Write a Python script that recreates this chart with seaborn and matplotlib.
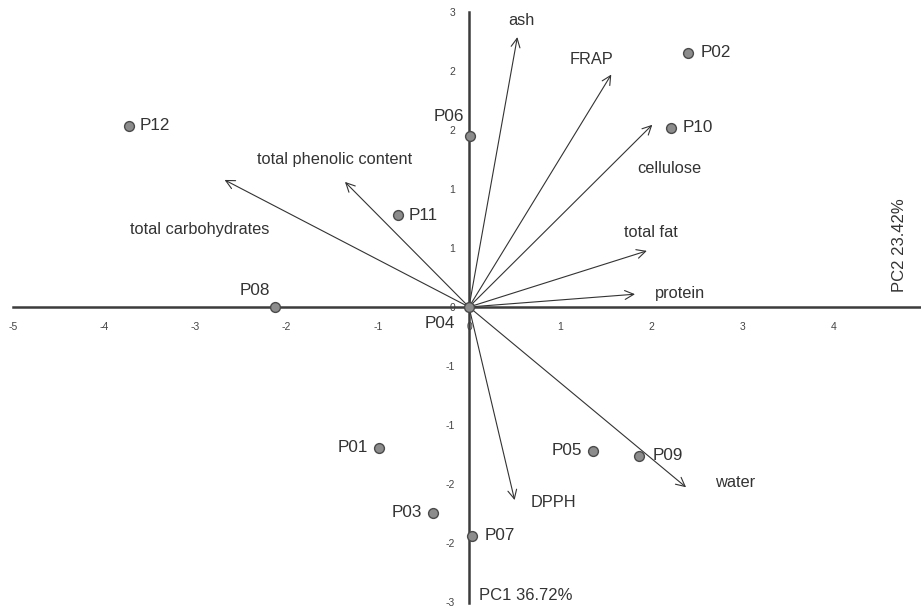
import matplotlib
matplotlib.use("Agg")
import matplotlib.pyplot as plt
from matplotlib.ticker import FixedLocator, FixedFormatter
import seaborn as sns
import pandas as pd

# ---- data ----
samples = ["P01", "P02", "P03", "P04", "P05", "P06", "P07", "P08", "P09", "P10", "P11", "P12"]
pc1 = [-0.99, 2.40, -0.39, 0.00, 1.36, 0.01, 0.03, -2.13, 1.86, 2.21, -0.78, -3.73]
pc2 = [-1.43, 2.58, -2.09, 0.00, -1.46, 1.74, -2.32, 0.00, -1.51, 1.82, 0.93, 1.84]

variables = ["ash", "FRAP", "cellulose", "total fat", "protein", "water", "DPPH",
             "total phenolic content", "total carbohydrates"]
load1 = [0.53, 1.56, 2.01, 1.95, 1.82, 2.38, 0.50, -1.36, -2.68]
load2 = [2.74, 2.36, 1.85, 0.57, 0.13, -1.83, -1.96, 1.27, 1.29]

x_ticks = [-5, -4, -3, -2, -1, 0, 1, 2, 3, 4]
x_ticklabels = ["-5", "-4", "-3", "-2", "-1", "0", "1", "2", "3", "4"]
y_ticks = [-3, -2.4, -1.8, -1.2, -0.6, 0, 0.6, 1.2, 1.8, 2.4, 3]
y_ticklabels = ["-3", "-2", "-2", "-1", "-1", "0", "1", "1", "2", "2", "3"]

x_axis_title = "PC2 23.42%"
y_axis_title = "PC1 36.72%"

# ---- layout (label placement, not data) ----
sample_label_offsets = {  # points offset, ha
    "P01": (-8, 0, "right"), "P02": (9, 0, "left"), "P03": (-8, 0, "right"),
    "P04": (-21, -12, "center"), "P05": (-8, 0, "right"), "P06": (-15, 14, "center"),
    "P07": (9, 0, "left"), "P08": (-14, 12, "center"), "P09": (10, 0, "left"),
    "P10": (9, 0, "left"), "P11": (8, 0, "left"), "P12": (8, 0, "left"),
}
var_label_pos = {
    "ash": (0.58, 2.91), "FRAP": (1.34, 2.51), "cellulose": (2.20, 1.41),
    "total fat": (1.99, 0.76), "protein": (2.31, 0.14), "water": (2.92, -1.78),
    "DPPH": (0.93, -1.98), "total phenolic content": (-1.47, 1.50),
    "total carbohydrates": (-2.95, 0.79),
}

sns.set_theme(style="white")
plt.rcParams["font.family"] = ["Liberation Sans", "DejaVu Sans"]

fig = plt.figure(figsize=(9.21, 6.08), dpi=100)
ax = fig.add_axes([0, 0, 1, 1])

xl = (-469 / 91.2, 452 / 91.2)
yl = (-301 / 98.5, 307 / 98.5)

df = pd.DataFrame({"sample": samples, "pc1": pc1, "pc2": pc2})

# loading arrows
for v, a, b in zip(variables, load1, load2):
    ax.annotate("", xy=(a, b), xytext=(0, 0),
                arrowprops=dict(arrowstyle="->", color="#333333", lw=0.8,
                                mutation_scale=16, shrinkA=0, shrinkB=0))
    lx, ly = var_label_pos[v]
    ax.text(lx, ly, v, ha="center", va="center", fontsize=11.8, color="#333333")

sns.scatterplot(data=df, x="pc1", y="pc2", ax=ax, s=50, color="#8c8c8c",
                edgecolor="#4a4a4a", linewidth=1.0, zorder=5, legend=False)

for s, a, b in zip(samples, pc1, pc2):
    dx, dy, ha = sample_label_offsets[s]
    ax.annotate(s, xy=(a, b), xytext=(dx, dy), textcoords="offset points",
                ha=ha, va="center", fontsize=12.3, color="#333333")

ax.set_xlim(*xl)
ax.set_ylim(*yl)

for side in ["top", "right"]:
    ax.spines[side].set_visible(False)
ax.spines["left"].set_position(("data", 0))
ax.spines["bottom"].set_position(("data", 0))
ax.spines["left"].set_bounds(-3, 3)
ax.spines["bottom"].set_bounds(-5, xl[1])
for side in ["left", "bottom"]:
    ax.spines[side].set_color("#3c3c3c")
    ax.spines[side].set_linewidth(1.8)
    ax.spines[side].set_zorder(3)

ax.xaxis.set_major_locator(FixedLocator(x_ticks))
ax.xaxis.set_major_formatter(FixedFormatter(x_ticklabels))
ax.yaxis.set_major_locator(FixedLocator(y_ticks))
ax.yaxis.set_major_formatter(FixedFormatter(y_ticklabels))
ax.tick_params(axis="x", length=0, pad=11, labelsize=7.5, labelcolor="#444444")
ax.tick_params(axis="y", length=0, pad=10, labelsize=7.5, labelcolor="#444444")
ax.set_xlabel("")
ax.set_ylabel("")
ax.grid(False)

ax.text(4.72, 0.63, x_axis_title, rotation=90, ha="center", va="center",
        fontsize=12, color="#333333")
ax.text(0.11, -2.93, y_axis_title, ha="left", va="center",
        fontsize=12, color="#333333")

fig.savefig("out.png", dpi=100)
